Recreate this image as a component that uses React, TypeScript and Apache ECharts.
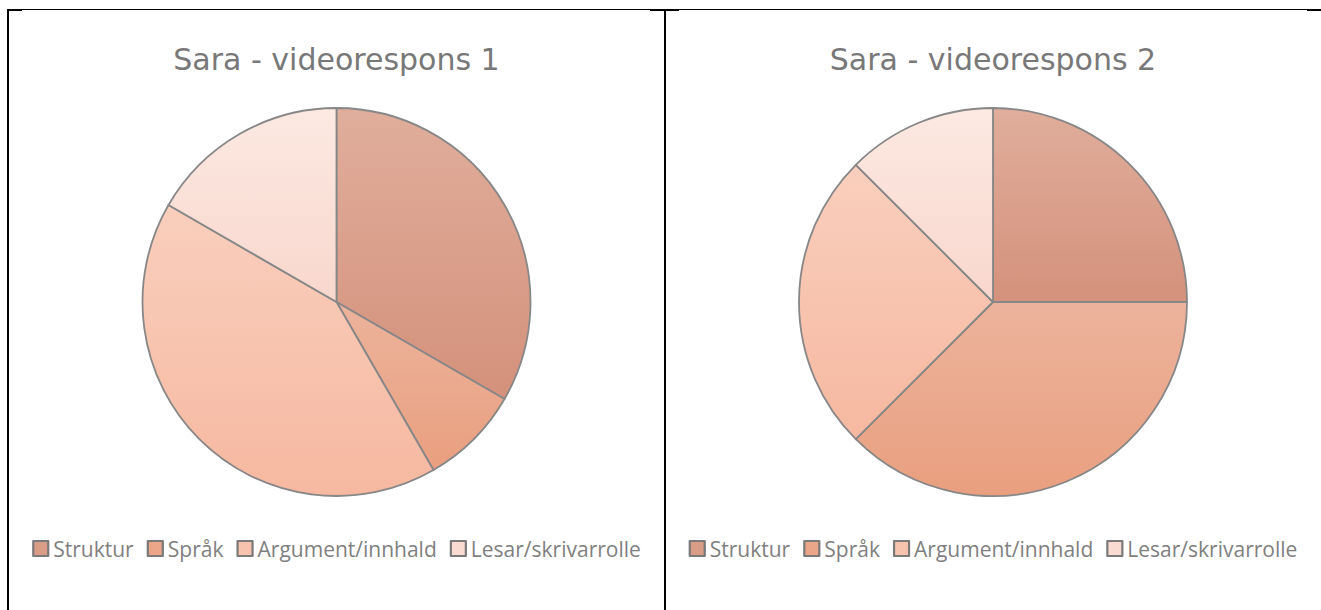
import React, { useEffect, useRef } from "react";
import * as echarts from "echarts";

const categories = ["Struktur", "Språk", "Argument/innhald", "Lesar/skrivarrolle"];
const values1 = [4, 1, 5, 2];
const values2 = [2, 3, 2, 1];
const titles = ["Sara - videorespons 1", "Sara - videorespons 2"];

const topColors = ["#e0ae9c", "#ecb39c", "#f9cfbd", "#fce9e2"];
const bottomColors = ["#d4917b", "#e99f7f", "#f6b8a0", "#f8d7cd"];
const legendColors = ["#d89c87", "#eba68a", "#f7c3ae", "#fadbd1"];

function makeOption(title: string, values: number[]) {
  return {
    animation: false,
    title: {
      text: title,
      left: "center",
      top: 44,
      padding: 0,
      textStyle: {
        fontFamily: "DejaVu Sans",
        fontSize: 30,
        fontWeight: "normal",
        color: "#787878",
      },
    },
    legend: {
      left: "center",
      top: 538,
      padding: 0,
      icon: "rect",
      itemWidth: 15,
      itemHeight: 15,
      itemGap: 13,
      selectedMode: false,
      textStyle: { fontFamily: "Open Sans", fontSize: 21, color: "#7f7f7f" },
      data: categories.map((c, i) => ({
        name: c,
        itemStyle: { color: legendColors[i], borderColor: "#7a7a7a", borderWidth: 2.2 },
      })),
    },
    series: [
      {
        type: "pie",
        center: ["50%", 302],
        radius: 194,
        startAngle: 90,
        clockwise: true,
        label: { show: false },
        labelLine: { show: false },
        emphasis: { disabled: true },
        itemStyle: { borderColor: "#878787", borderWidth: 1.8 },
        data: categories.map((c, i) => ({
          name: c,
          value: values[i],
          itemStyle: {
            color: new echarts.graphic.LinearGradient(0, 0, 0, 1, [
              { offset: 0, color: topColors[i] },
              { offset: 1, color: bottomColors[i] },
            ]),
          },
        })),
      },
    ],
  };
}

function PieChart({ title, values, style }: { title: string; values: number[]; style: React.CSSProperties }) {
  const ref = useRef<HTMLDivElement>(null);
  useEffect(() => {
    if (!ref.current) return;
    const chart = echarts.init(ref.current, undefined, { renderer: "svg" });
    chart.setOption(makeOption(title, values) as any);
    return () => chart.dispose();
  }, [title, values]);
  return <div ref={ref} style={style} />;
}

const line = (l: number, t: number, w: number, h: number): React.CSSProperties => ({
  position: "absolute",
  left: l,
  top: t,
  width: w,
  height: h,
  background: "#000",
  zIndex: 2,
});

export default function App() {
  return (
    <div style={{ position: "fixed", left: 0, top: 0, width: 1321, height: 610, background: "#fff", overflow: "hidden" }}>
      <PieChart title={titles[0]} values={values1} style={{ position: "absolute", left: 8, top: 0, width: 657, height: 610 }} />
      <PieChart title={titles[1]} values={values2} style={{ position: "absolute", left: 665, top: 0, width: 656, height: 610 }} />
      <div style={line(8, 9, 1313, 1)} />
      <div style={line(8, 9, 14, 2)} />
      <div style={line(650, 9, 29, 2)} />
      <div style={line(1307, 9, 14, 2)} />
      <div style={line(7, 9, 2, 601)} />
      <div style={line(664, 9, 2, 601)} />
    </div>
  );
}
